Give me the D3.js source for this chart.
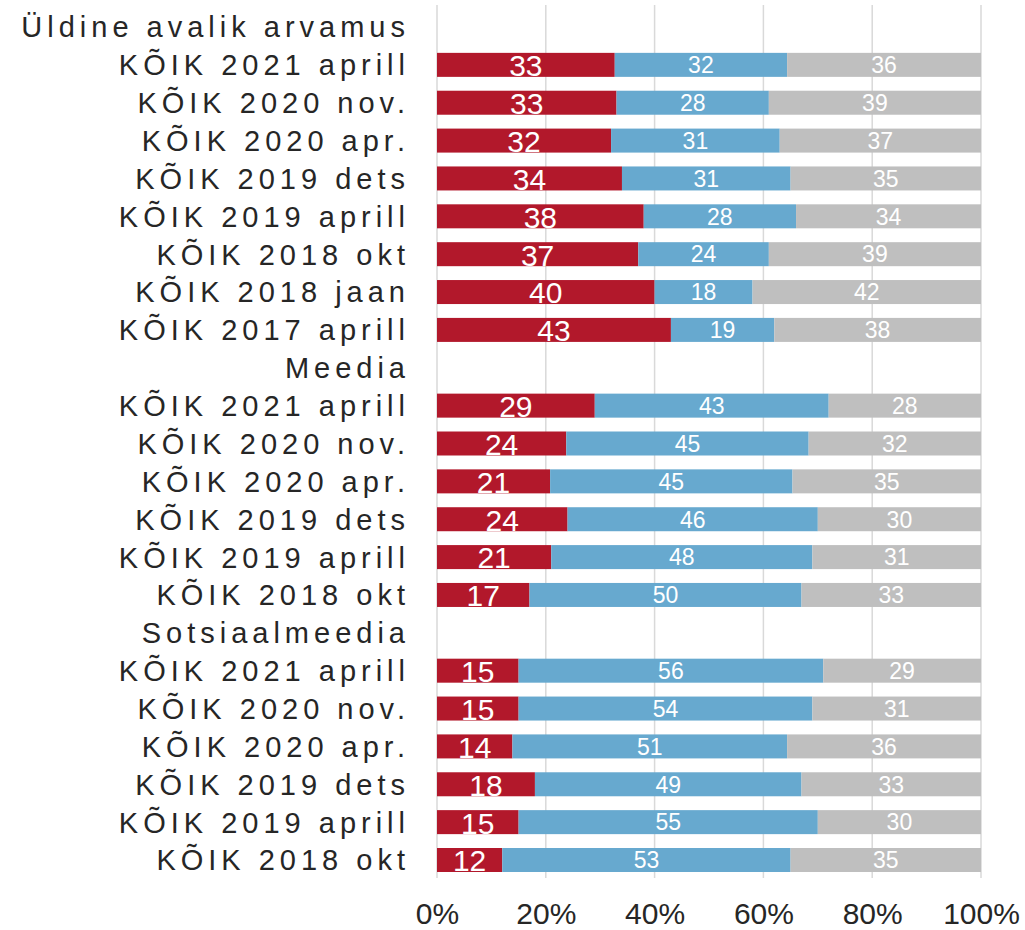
<!DOCTYPE html>
<html>
<head>
<meta charset="utf-8">
<script src="https://cdn.jsdelivr.net/npm/d3@7"></script>
<style>
  body { margin: 0; background: #fff; }
</style>
</head>
<body>
<div id="chart"></div>
<script>
// groups and the survey waves in each one
const groups = ["Üldine avalik arvamus", "Meedia", "Sotsiaalmeedia"];
const waves = [
  ["KÕIK 2021 aprill", "KÕIK 2020 nov.", "KÕIK 2020 apr.", "KÕIK 2019 dets", "KÕIK 2019 aprill", "KÕIK 2018 okt", "KÕIK 2018 jaan", "KÕIK 2017 aprill"],
  ["KÕIK 2021 aprill", "KÕIK 2020 nov.", "KÕIK 2020 apr.", "KÕIK 2019 dets", "KÕIK 2019 aprill", "KÕIK 2018 okt"],
  ["KÕIK 2021 aprill", "KÕIK 2020 nov.", "KÕIK 2020 apr.", "KÕIK 2019 dets", "KÕIK 2019 aprill", "KÕIK 2018 okt"]
];
// three answer shares per wave (red, blue, gray)
const redValues = [
  [33, 33, 32, 34, 38, 37, 40, 43],
  [29, 24, 21, 24, 21, 17],
  [15, 15, 14, 18, 15, 12]
];
const blueValues = [
  [32, 28, 31, 31, 28, 24, 18, 19],
  [43, 45, 45, 46, 48, 50],
  [56, 54, 51, 49, 55, 53]
];
const grayValues = [
  [36, 39, 37, 35, 34, 39, 42, 38],
  [28, 32, 35, 30, 31, 33],
  [29, 31, 36, 33, 30, 35]
];
const xTicks = [0, 0.2, 0.4, 0.6, 0.8, 1];

const keys = ["red", "blue", "gray"];
const colors = { red: "#B2182B", blue: "#67A9CF", gray: "#BFBFBF" };

// flatten into rows: a header row per group, then its waves
const rows = [];
groups.forEach((g, gi) => {
  rows.push({ id: rows.length, label: g, header: true });
  waves[gi].forEach((w, wi) => {
    rows.push({
      id: rows.length, label: w, header: false,
      red: redValues[gi][wi], blue: blueValues[gi][wi], gray: grayValues[gi][wi]
    });
  });
});
const barRows = rows.filter(d => !d.header);

const width = 1025, height = 930;
const x = d3.scaleLinear().domain([0, 1]).range([437, 981]);
const y = d3.scalePoint().domain(rows.map(d => d.id)).range([27, 860]);
const barH = 24;

const svg = d3.select("#chart").append("svg")
  .attr("width", width)
  .attr("height", height)
  .style("font-family", "Arial, 'Liberation Sans', sans-serif");

// grid
svg.append("g").selectAll("line")
  .data(xTicks)
  .join("line")
  .attr("x1", d => x(d)).attr("x2", d => x(d))
  .attr("y1", 5).attr("y2", 878)
  .attr("stroke", "#d9d9d9")
  .attr("stroke-width", 1.5);

// stacks, normalised to 100%
const stack = d3.stack().keys(keys).offset(d3.stackOffsetExpand);
const series = stack(barRows);

const layers = svg.append("g").selectAll("g")
  .data(series)
  .join("g")
  .attr("fill", d => colors[d.key]);

layers.selectAll("rect")
  .data(d => d)
  .join("rect")
  .attr("x", d => x(d[0]))
  .attr("width", d => x(d[1]) - x(d[0]))
  .attr("y", d => y(d.data.id) - barH / 2)
  .attr("height", barH);

layers.selectAll("text")
  .data(d => d.map(v => Object.assign({ key: d.key }, v)))
  .join("text")
  .attr("x", d => (x(d[0]) + x(d[1])) / 2)
  .attr("y", d => y(d.data.id))
  .attr("dy", d => d.key === "red" ? "0.38em" : "0.36em")
  .attr("text-anchor", "middle")
  .attr("fill", "#fff")
  .attr("font-size", d => d.key === "red" ? "30px" : "23px")
  .text(d => d.data[d.key]);

// row labels
svg.append("g").selectAll("text")
  .data(rows)
  .join("text")
  .attr("x", 410)
  .attr("y", d => y(d.id))
  .attr("dy", "0.36em")
  .attr("text-anchor", "end")
  .attr("font-size", "29px")
  .attr("letter-spacing", "5px")
  .attr("fill", "#262626")
  .text(d => d.label);

// x axis labels
const xAxis = d3.axisBottom(x)
  .tickValues(xTicks)
  .tickFormat(d3.format(".0%"))
  .tickSize(0)
  .tickPadding(0);

const axisG = svg.append("g")
  .attr("transform", "translate(0, 903)")
  .call(xAxis);
axisG.select(".domain").remove();
axisG.selectAll("text")
  .attr("font-size", "30px")
  .attr("font-family", "Arial, 'Liberation Sans', sans-serif")
  .attr("fill", "#262626")
  .attr("dy", "0.71em");
</script>
</body>
</html>
